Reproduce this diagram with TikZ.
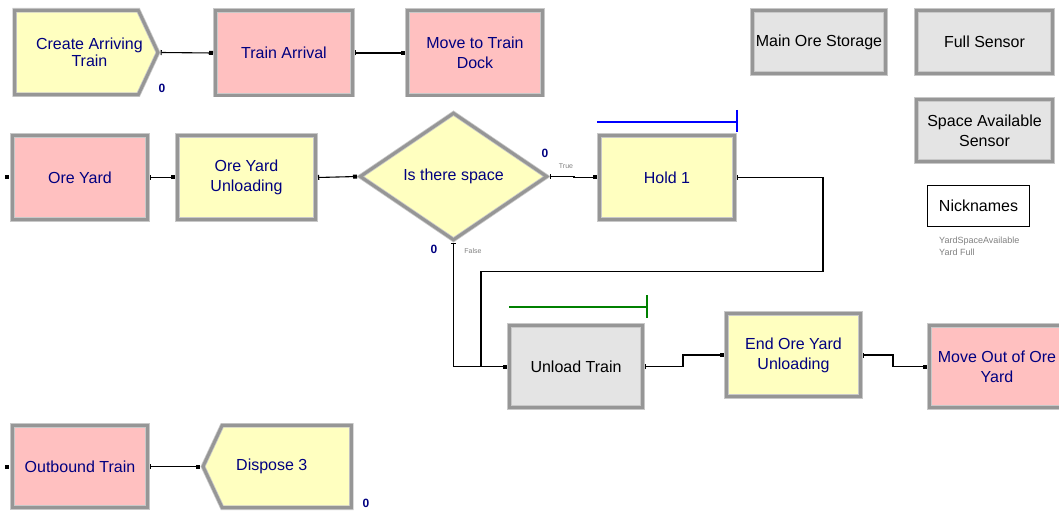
\documentclass[tikz,border=0pt]{standalone}
\usepackage{fontspec}
\setmainfont{Liberation Sans}
\usetikzlibrary{shapes.geometric,shapes.symbols,arrows.meta}
\definecolor{arenayellow}{RGB}{255,255,192}
\definecolor{arenapink}{RGB}{255,192,192}
\definecolor{arenagray}{RGB}{228,228,228}
\definecolor{bevel}{RGB}{150,150,150}
\definecolor{bevellight}{RGB}{200,200,200}
\definecolor{labelblue}{RGB}{0,0,128}
\definecolor{resblue}{RGB}{0,0,255}
\definecolor{resgreen}{RGB}{0,128,0}
\newcommand*\modw{135.4pt}
\newcommand*\modh{84.4pt}
\tikzset{
    module/.style      = {rectangle, draw=bevellight, double=bevel, double distance=3pt,
                         line width=0.8pt, outer sep=2.3pt,
                         minimum width=\modw, minimum height=\modh, inner sep=2pt,
                         align=center, text=labelblue, font=\fontsize{16}{20}\selectfont},
    yellowmodule/.style = {module, fill=arenayellow},
    pinkmodule/.style   = {module, fill=arenapink},
    graymodule/.style   = {module, fill=arenagray, text=black},
    createmodule/.style = {yellowmodule, signal, signal to=east, signal pointer angle=130},
    disposemodule/.style= {yellowmodule, signal, signal to=west, signal pointer angle=130},
    decidemodule/.style = {yellowmodule, diamond, aspect=1.45, inner sep=0pt,
                          minimum width=188.4pt, minimum height=128.4pt},
    shiftedtext/.style  = {text=labelblue, align=center, inner sep=0pt},
    nickbox/.style      = {draw=black, line width=1pt, fill=white, minimum width=102pt,
                          minimum height=41pt, font=\fontsize{16}{20}\selectfont},
    conn/.style         = {draw=black, line width=1.1pt,
                          arrows={Bar[width=5pt,line width=1.2pt]-Square[length=4pt,width=4pt]}},
    inport/.style       = {rectangle, fill=black, minimum size=4pt, inner sep=0pt},
    counter/.style      = {text=labelblue, font=\fontsize{12}{12}\selectfont\bfseries, inner sep=0pt},
    branchlabel/.style  = {text=gray, font=\fontsize{7}{7}\selectfont, inner sep=0pt},
    holdres/.style      = {color=resblue, line width=1.2pt},
    unloadres/.style    = {color=resgreen, line width=1.2pt},
  }
\begin{document}
\begin{tikzpicture}[x=1pt,y=-1pt]
  \useasboundingbox (0,0) rectangle (1059,513);

  % Row 1: train arrival
  \node[createmodule, minimum width=143.4pt, anchor=west,
        label={[shiftedtext, font=\fontsize{16}{17}\selectfont, xshift=13pt]center:{Create Arriving\\Train}}]
        (create) at (12.3,52.5) {};
  \node[pinkmodule, minimum width=137.4pt] (trainarr) at (284,53) {Train Arrival};
  \node[pinkmodule] (movedock) at (475,53) {Move to Train\\Dock};

  % Data modules on the right
  \node[graymodule, minimum width=133.4pt, minimum height=63.4pt] (mainore) at (819,42) {Main Ore Storage};
  \node[graymodule, minimum width=136.4pt, minimum height=63.4pt] (fullsensor) at (984.5,42) {Full Sensor};
  \node[graymodule, minimum width=136.4pt, minimum height=62.4pt] (spacesensor) at (984.5,130.5) {Space Available\\Sensor};
  \node[nickbox] (nick) at (978.5,206) {Nicknames};
  \node[anchor=north west, align=left, text=gray, inner sep=0pt,
        font=\fontsize{9}{12}\selectfont] (nicklist) at (939,237) {YardSpaceAvailable\\Yard Full};

  % Row 2: ore yard and decision
  \node[pinkmodule] (oreyard) at (80,177.5) {Ore Yard};
  \node[yellowmodule, minimum width=138.4pt] (oyunload) at (246.5,177.5) {Ore Yard\\Unloading};
  \node[decidemodule] (decide) at (453.5,176.5) {Is there space};
  \node[yellowmodule] (hold) at (667,177.5) {Hold 1};

  % Row 3: unloading
  \node[graymodule, minimum width=133.4pt, minimum height=82.4pt] (unload) at (576,366.5) {Unload Train};
  \node[yellowmodule, minimum width=134.4pt, minimum height=83.4pt] (endyard) at (793.5,355) {End Ore Yard\\Unloading};
  \node[pinkmodule, minimum height=82.4pt] (moveout) at (997,366.5) {Move Out of Ore\\Yard};

  % Row 4: departure
  \node[pinkmodule, minimum height=82.4pt] (outbound) at (80,466.5) {Outbound Train};
  \node[disposemodule, minimum width=148.4pt, minimum height=82.4pt, anchor=east,
        label={[shiftedtext, font=\fontsize{16}{20}\selectfont, xshift=-15pt]center:{Dispose 3}}]
        (dispose) at (353.7,466.5) {};

  % Counters and branch labels
  \node[counter] (createcount) at (162,88) {0};
  \node[counter] (truecount) at (545,153) {0};
  \node[counter] (falsecount) at (434,249) {0};
  \node[counter] (disposecount) at (366,503) {0};
  \node[branchlabel] (truelabel) at (566,166) {True};
  \node[branchlabel] (falselabel) at (473,251) {False};

  % Resource bars
  \draw[holdres] ([yshift=11pt]hold.north west) -- ([yshift=11pt]hold.north east);
  \draw[holdres] ([yshift=23pt]hold.north east) -- ([yshift=1pt]hold.north east);
  \draw[unloadres] ([xshift=2pt,yshift=16pt]unload.north west) -- ([xshift=2pt,yshift=16pt]unload.north east);
  \draw[unloadres] ([xshift=2pt,yshift=28pt]unload.north east) -- ([xshift=2pt,yshift=5pt]unload.north east);

  % Loose entry points
  \node[inport] (oreyardin) at ([xshift=-3pt]oreyard.west) {};
  \node[inport] (outboundin) at ([xshift=-3pt]outbound.west) {};

  % Connectors
  \draw[conn] (create.east) -- (trainarr.west);
  \draw[conn] (trainarr.east) -- (movedock.west);
  \draw[conn] (oreyard.east) -- (oyunload.west);
  \draw[conn] (oyunload.east) -- (decide.west);
  \draw[conn] (decide.east) -- ++(24,0) |- (hold.west);
  \draw[conn] (decide.south) |- (unload.west);
  \draw[conn] (hold.east) -- ++(86,0) -- ++(0,94) -| ([xshift=-26pt]unload.west) -- (unload.west);
  \draw[conn] (unload.east) -- ++(38,0) |- (endyard.west);
  \draw[conn] (endyard.east) -- ++(30,0) |- (moveout.west);
  \draw[conn] (outbound.east) -- (dispose.west);
\end{tikzpicture}
\end{document}
